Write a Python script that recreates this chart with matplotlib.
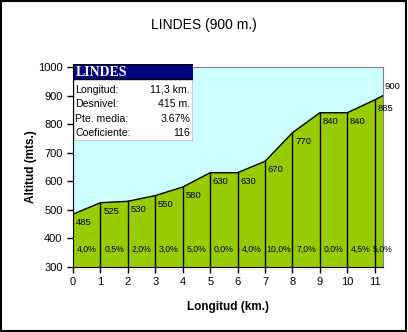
import matplotlib
matplotlib.use("Agg")
import matplotlib.pyplot as plt
from matplotlib.patches import Rectangle

# profile data
km = [0, 1, 2, 3, 4, 5, 6, 7, 8, 9, 10, 11, 11.3]
altitud = [485, 525, 530, 550, 580, 630, 630, 670, 770, 840, 840, 885, 900]
pendientes = ["4,0%", "0,5%", "2,0%", "3,0%", "5,0%", "0,0%", "4,0%",
              "10,0%", "7,0%", "0,0%", "4,5%", "5,0%"]
info_labels = ["Longitud:", "Desnivel:", "Pte. media:", "Coeficiente:"]
info_values = ["11,3 km.", "415 m.", "3.67%", "116"]

plt.rcParams['font.family'] = ['Liberation Sans', 'DejaVu Sans']

W, H = 408, 332
fig = plt.figure(figsize=(W / 100, H / 100), dpi=100)
fig.patch.set_facecolor('white')

ax = fig.add_axes([73 / W, 1 - 267 / H, 310 / W, 200 / H])
ax.set_facecolor('#CCFFFF')
ax.set_xlim(0, 11.3)
ax.set_ylim(300, 1000)

ax.fill_between(km, altitud, 300, color='#99CC00', zorder=2)
ax.plot(km, altitud, color='black', lw=1, zorder=3)
for x, y in zip(km[1:-1], altitud[1:-1]):
    ax.plot([x, x], [300, y], color='black', lw=1, zorder=3)

# altitude labels
for x, y in zip(km[:-1], altitud[:-1]):
    ax.annotate(str(y), (x, y), xytext=(2, -3), textcoords='offset points',
                ha='left', va='top', fontsize=6.8, zorder=4)
ax.annotate(str(altitud[-1]), (km[-1], altitud[-1]), xytext=(7, 3),
            textcoords='offset points', ha='center', va='bottom',
            fontsize=6.8, zorder=4, annotation_clip=False)

# gradient labels
for i, p in enumerate(pendientes):
    xc = (km[i] + km[i + 1]) / 2
    if i == len(pendientes) - 1:
        xc = km[i] + 0.28
    ax.text(xc, 363, p, ha='center', va='center', fontsize=6.3, zorder=4)

ax.set_xticks(range(12))
ax.set_yticks(range(300, 1001, 100))
ax.tick_params(direction='out', length=4, width=1, labelsize=8, colors='black')
for s in ['top', 'right']:
    ax.spines[s].set_color('#808080')
for s in ['left', 'bottom']:
    ax.spines[s].set_color('black')
    ax.spines[s].set_zorder(5)

ax.set_xlabel('Longitud (km.)', fontsize=8.5, fontweight='bold', labelpad=10)
ax.set_ylabel('Altitud (mts.)', fontsize=8.5, fontweight='bold', labelpad=1)

fig.text(204 / W, 1 - 25 / H, 'LINDES (900 m.)', ha='center', va='center', fontsize=10)

# info box
box = fig.add_axes([73 / W, 1 - 141 / H, 120 / W, 77 / H])
box.set_xlim(0, 120)
box.set_ylim(77, 0)
box.axis('off')
box.add_patch(Rectangle((0, 0), 120, 77, facecolor='white', edgecolor='black', lw=1))
box.add_patch(Rectangle((0, 0), 120, 15, facecolor='#000080', edgecolor='black', lw=1))
box.text(3, 8, 'LINDES', color='white', fontweight='bold', fontsize=10,
         family='Liberation Serif', va='center', ha='left')
for i, (lab, val) in enumerate(zip(info_labels, info_values)):
    yc = 26 + i * 14.3
    box.text(2, yc, lab, fontsize=7.6, va='center', ha='left')
    box.text(117, yc, val, fontsize=7.6, va='center', ha='right')

# outer border
fig.add_artist(Rectangle((0.5 / W, 1.5 / H), (W - 2.5) / W, (H - 2.5) / H,
                         transform=fig.transFigure, fill=False,
                         edgecolor='black', lw=1.5))

fig.savefig('out.png', dpi=100)
